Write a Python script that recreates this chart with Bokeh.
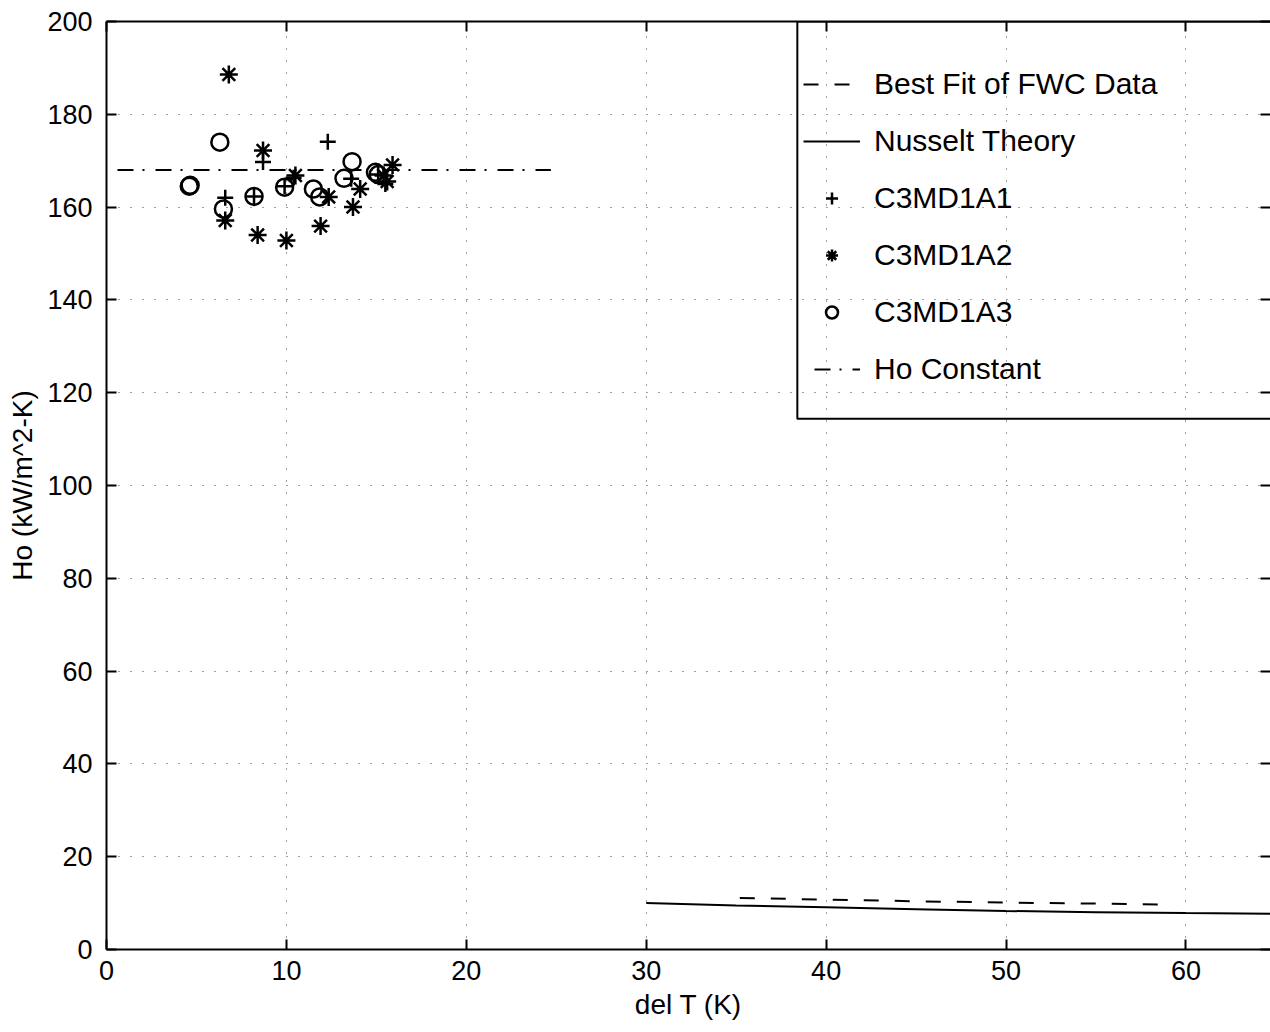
from bokeh.plotting import figure
from bokeh.models import (FixedTicker, LinearAxis, Legend, LegendItem,
                          BoxAnnotation, Range1d)
from bokeh.embed import file_html
from bokeh.resources import INLINE

# ---- data ----
x_ticks = [0, 10, 20, 30, 40, 50, 60]
y_ticks = [0, 20, 40, 60, 80, 100, 120, 140, 160, 180, 200]

# Best fit of FWC data (dashed)
fit_dt = [35.2, 40, 45, 50, 55, 58.6]
fit_ho = [11.1, 10.75, 10.4, 10.1, 9.9, 9.7]

# Nusselt theory (solid)
nus_dt = [30, 35, 40, 45, 50, 55, 60, 64.7]
nus_ho = [10.0, 9.5, 9.1, 8.7, 8.3, 8.05, 7.85, 7.7]

# C3MD1A1 (+)
a1_dt = [6.6, 8.7, 8.2, 9.9, 10.4, 12.3, 13.6, 15.1, 15.5]
a1_ho = [162.0, 169.7, 162.3, 164.5, 166.3, 174.1, 166.1, 167.0, 165.0]

# C3MD1A2 (*)
a2_dt = [6.8, 8.7, 6.6, 8.4, 10.0, 10.5, 11.9, 12.35, 14.1, 13.7, 15.9, 15.6, 15.4]
a2_ho = [188.6, 172.2, 157.1, 154.0, 152.8, 166.8, 155.9, 162.2, 163.9, 160.0, 169.1, 165.5, 166.8]

# C3MD1A3 (o)
a3_dt = [4.6, 4.65, 6.3, 6.5, 8.2, 9.9, 11.5, 11.85, 13.65, 13.2, 14.95, 15.1]
a3_ho = [164.5, 164.7, 174.0, 159.6, 162.3, 164.3, 163.9, 162.2, 169.8, 166.2, 167.5, 167.0]

# Ho constant (dash-dot)
hoc_dt = [0, 24.7]
hoc_ho = [168.0, 168.0]

FONT = "Liberation Sans"

p = figure(width=1270, height=1032, output_backend="svg", toolbar_location=None,
           x_range=Range1d(0, 64.7), y_range=Range1d(0, 200),
           min_border_left=106, min_border_right=0, min_border_top=21,
           min_border_bottom=83)
p.outline_line_color = None
p.background_fill_color = "white"
p.border_fill_color = "white"

for ax in (p.xaxis[0], p.yaxis[0]):
    ax.axis_line_color = "black"
    ax.axis_line_width = 2
    ax.major_tick_line_color = "black"
    ax.major_tick_line_width = 2
    ax.major_tick_in = 10
    ax.major_tick_out = 0
    ax.minor_tick_line_color = None
    ax.major_label_text_font = FONT
    ax.major_label_text_font_size = "27px"
    ax.major_label_text_color = "black"
    ax.axis_label_text_font = FONT
    ax.axis_label_text_font_size = "28px"
    ax.axis_label_text_font_style = "normal"
    ax.axis_label_text_color = "black"

p.xaxis[0].ticker = FixedTicker(ticks=x_ticks)
p.yaxis[0].ticker = FixedTicker(ticks=y_ticks)
p.xaxis[0].axis_label = "del T (K)"
p.yaxis[0].axis_label = "Ho (kW/m^2-K)"
p.xaxis[0].major_label_standoff = 11
p.xaxis[0].axis_label_standoff = 6
p.yaxis[0].major_label_standoff = 14
p.yaxis[0].axis_label_standoff = 6

# box ticks on top and right (no labels)
top = LinearAxis(ticker=FixedTicker(ticks=x_ticks), major_label_text_font_size="0px",
                 major_label_text_color=None, major_label_text_alpha=0,
                 major_label_standoff=0, major_tick_in=10, major_tick_out=0,
                 major_tick_line_width=2, axis_line_width=2, minor_tick_line_color=None)
p.add_layout(top, "above")
right = LinearAxis(ticker=FixedTicker(ticks=y_ticks), major_label_text_font_size="0px",
                   major_label_text_color=None, major_label_text_alpha=0,
                   major_label_standoff=0, major_tick_in=10, major_tick_out=0,
                   major_tick_line_width=2, axis_line_color=None, minor_tick_line_color=None)
p.add_layout(right, "right")

for g in (p.xgrid[0], p.ygrid[0]):
    g.grid_line_color = "black"
    g.grid_line_alpha = 0.75
    g.grid_line_width = 1
    g.grid_line_dash = "1 11"

r_fit = p.line(fit_dt, fit_ho, line_color="black", line_width=2, line_dash="15 16")
r_nus = p.line(nus_dt, nus_ho, line_color="black", line_width=2)
r_hoc = p.line(hoc_dt, hoc_ho, line_color="black", line_width=2,
               line_dash="16 9 2 11", line_dash_offset=27)
r_a1 = p.scatter(a1_dt, a1_ho, marker="cross", size=16, line_color="black", line_width=2.5)
r_a2 = p.scatter(a2_dt, a2_ho, marker="asterisk", size=18, line_color="black", line_width=2.5)
r_a3 = p.scatter(a3_dt, a3_ho, marker="circle", size=17, line_color="black",
                 fill_color=None, line_width=2.5)

box = BoxAnnotation(left=38.4, right=80, top=200, bottom=114.4,
                    fill_color=None, fill_alpha=0, line_color="black",
                    line_alpha=1, line_width=2)
p.add_layout(box)

legend = Legend(items=[
    LegendItem(label="Best Fit of FWC Data", renderers=[r_fit]),
    LegendItem(label="Nusselt Theory", renderers=[r_nus]),
    LegendItem(label="C3MD1A1", renderers=[r_a1]),
    LegendItem(label="C3MD1A2", renderers=[r_a2]),
    LegendItem(label="C3MD1A3", renderers=[r_a3]),
    LegendItem(label="Ho Constant", renderers=[r_hoc]),
], location=(697, 560), border_line_color=None, background_fill_alpha=0,
   padding=5, spacing=17, label_height=40, glyph_height=30, glyph_width=57,
   label_standoff=14, label_text_font=FONT, label_text_font_size="30px",
   label_text_color="black", margin=0)
p.add_layout(legend)

open("out.html", "w").write(file_html(p, INLINE))
